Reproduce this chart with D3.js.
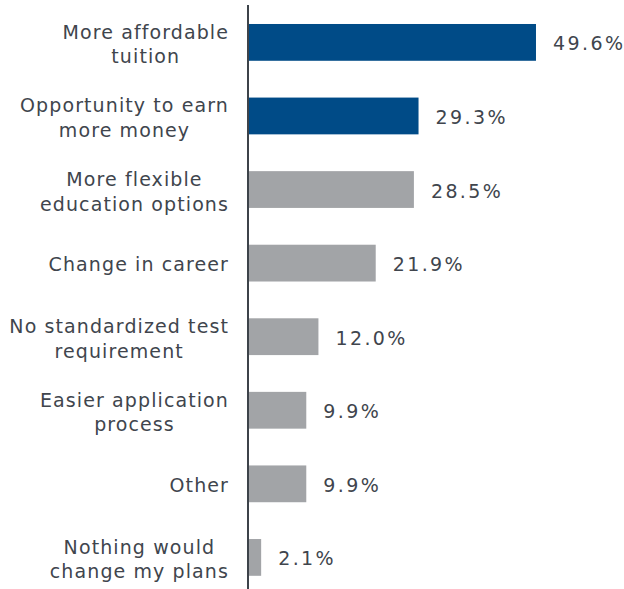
<!DOCTYPE html>
<html>
<head>
<meta charset="utf-8">
<script src="https://cdn.jsdelivr.net/npm/d3@7"></script>
<style>
  html, body { margin: 0; padding: 0; background: #fff; }
  svg { display: block; }
  text { font-family: "DejaVu Sans", Verdana, sans-serif; fill: #40454d; }
</style>
</head>
<body>
<svg id="chart" width="624" height="589"></svg>
<script>
// Reasons that would change respondents' plans
const categories = [
  ["More affordable", "tuition"],
  ["Opportunity to earn", "more money"],
  ["More flexible", "education options"],
  ["Change in career"],
  ["No standardized test", "requirement"],
  ["Easier application", "process"],
  ["Other"],
  ["Nothing would", "change my plans"]
];
const values = [49.6, 29.3, 28.5, 21.9, 12.0, 9.9, 9.9, 2.1];
const highlighted = [true, true, false, false, false, false, false, false];

const W = 624, H = 589;
const svg = d3.select("#chart");

const keys = categories.map((c, i) => i);
const y = d3.scaleBand().domain(keys).range([5.6, 594.2]).paddingInner(0.5).paddingOuter(0.25);
const x = d3.scaleLinear().domain([0, 50]).range([249, 538.3]);

// Bars
svg.selectAll("rect.bar")
  .data(values)
  .join("rect")
  .attr("class", "bar")
  .attr("x", x(0))
  .attr("y", (d, i) => y(i))
  .attr("width", d => x(d) - x(0))
  .attr("height", y.bandwidth())
  .attr("fill", (d, i) => highlighted[i] ? "#004b87" : "#a2a4a7");

// Value labels
svg.selectAll("text.value")
  .data(values)
  .join("text")
  .attr("class", "value")
  .attr("x", d => x(d) + 17)
  .attr("y", (d, i) => y(i) + y.bandwidth() / 2 + 8)
  .style("font-size", "19px")
  .style("letter-spacing", "2.4px")
  .text(d => d.toFixed(1) + "%");

// Category labels: the block is right aligned against the axis,
// lines inside it are centred on each other
const rightEdge = 229;
const labels = svg.selectAll("g.cat")
  .data(categories)
  .join("g")
  .attr("class", "cat");

labels.each(function(lines, i) {
  const g = d3.select(this);
  const cy = y(i) + y.bandwidth() / 2;
  const first = lines.length === 1 ? cy + 8 : cy - 3.5;
  const texts = g.selectAll("text")
    .data(lines)
    .join("text")
    .attr("text-anchor", "middle")
    .style("font-size", "19px")
    .style("letter-spacing", "1.1px")
    .attr("y", (l, j) => first + j * 24.5)
    .text(l => l);
  let maxW = 0;
  texts.each(function() { maxW = Math.max(maxW, this.getComputedTextLength()); });
  texts.attr("x", rightEdge - maxW / 2);
});

// Vertical axis line
svg.append("line")
  .attr("x1", 248).attr("x2", 248)
  .attr("y1", 5).attr("y2", H)
  .attr("stroke", "#3d434a")
  .attr("stroke-width", 2);
</script>
</body>
</html>
